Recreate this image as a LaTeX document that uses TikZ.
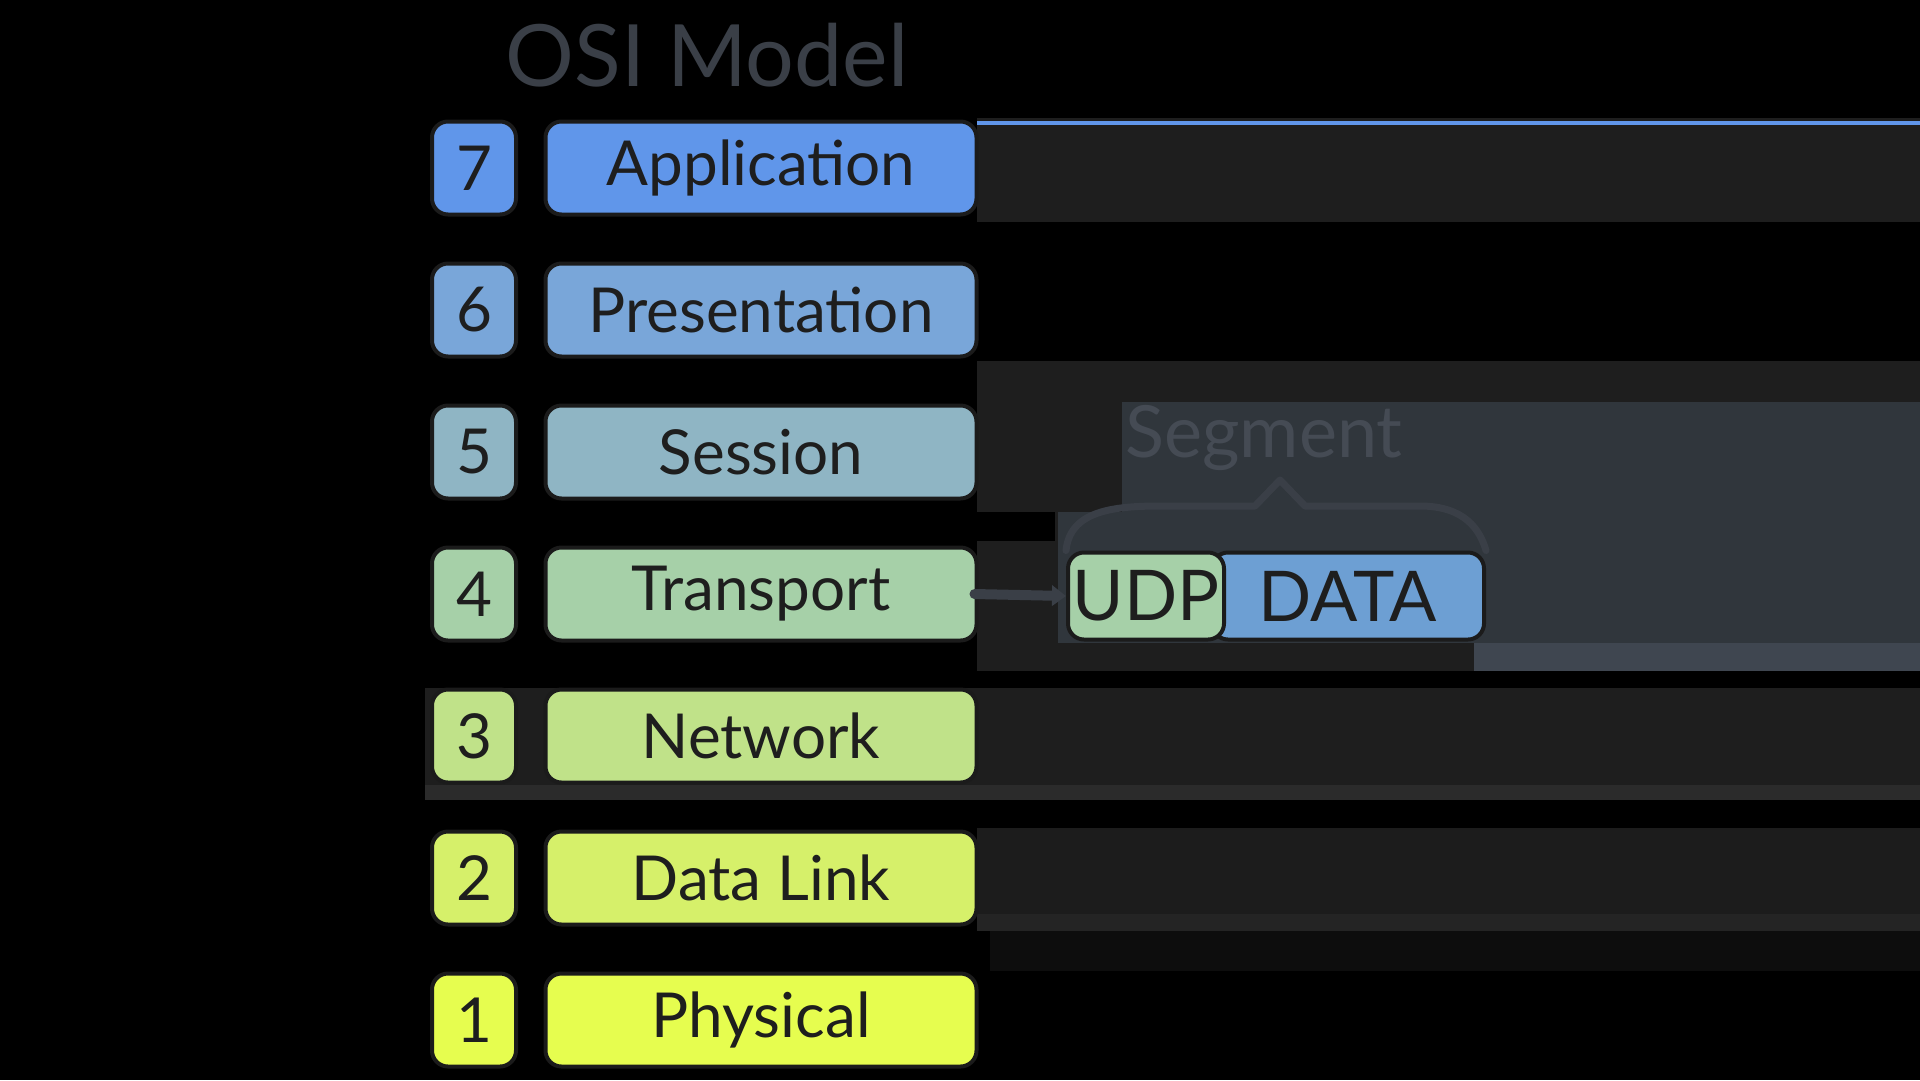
\documentclass[tikz,border=0pt]{standalone}
\usepackage{fontspec}
\setmainfont{Lato}
\usetikzlibrary{arrows.meta}

\definecolor{ink}{HTML}{1E1E1E}
\definecolor{edge}{HTML}{1B1B1B}
\definecolor{slate}{HTML}{3A3F47}
\definecolor{slatetext}{HTML}{454B54}
\definecolor{band}{HTML}{1E1E1E}
\definecolor{haze}{HTML}{30363C}
\definecolor{hazelight}{HTML}{3F4650}
\definecolor{lseven}{HTML}{6096EA}
\definecolor{lsix}{HTML}{79A6D9}
\definecolor{lfive}{HTML}{8FB5C4}
\definecolor{lfour}{HTML}{A6D0A8}
\definecolor{lthree}{HTML}{C0E289}
\definecolor{ltwo}{HTML}{D6F06A}
\definecolor{lone}{HTML}{E6FD4F}
\definecolor{datablue}{HTML}{6D9FD3}

\begin{document}
\begin{tikzpicture}[
  x=1pt, y=-1pt,
  num/.style={draw=edge, line width=4pt, rounded corners=16pt, minimum width=84pt,
    minimum height=93pt, text=ink, font=\fontsize{62}{70}\selectfont},
  layer/.style={num, minimum width=431pt},
  part/.style={draw=edge, line width=4pt, rounded corners=16pt, minimum height=87pt,
    text=ink, font=\fontsize{70}{80}\selectfont},
  link/.style={-{Triangle[length=14pt,width=20pt]}, line width=10pt, line cap=round, draw=slate}
]
% backdrop
\useasboundingbox (0,0) rectangle (1920,1080);
\fill[black] (0,0) rectangle (1920,1080);
\fill[band] (977,118) rectangle (1920,222);
\fill[lseven] (977,121) rectangle (1920,125);
\fill[band] (977,361) rectangle (1920,643);
\fill[haze] (1122,402) rectangle (1920,512);
\fill[haze] (1058,512) rectangle (1920,643);
\fill[black] (977,512) rectangle (1055,541);
\fill[hazelight] (1474,643) rectangle (1920,671);
\fill[band] (977,643) rectangle (1474,671);
\fill[band] (425,688) rectangle (1920,785);
\fill[black!83] (425,785) rectangle (1920,800);
\fill[black!89] (977,828) rectangle (1920,914);
\fill[black!86] (977,914) rectangle (1920,931);
\fill[black!95] (990,931) rectangle (1920,971);

\node[text=slate, font=\fontsize{86}{96}\selectfont] (title) at (707,55) {OSI Model};

\node[num, fill=lseven] (n7) at (474,168) {7};
\node[layer, fill=lseven] (l7) at (761,168) {Application};
\node[num, fill=lsix] (n6) at (474,310) {6};
\node[layer, fill=lsix] (l6) at (761,310) {Presentation};
\node[num, fill=lfive] (n5) at (474,452) {5};
\node[layer, fill=lfive] (l5) at (761,452) {Session};
\node[num, fill=lfour] (n4) at (474,594) {4};
\node[layer, fill=lfour] (l4) at (761,594) {Transport};
\node[num, fill=lthree] (n3) at (474,736) {3};
\node[layer, fill=lthree] (l3) at (761,736) {Network};
\node[num, fill=ltwo] (n2) at (474,878) {2};
\node[layer, fill=ltwo] (l2) at (761,878) {Data Link};
\node[num, fill=lone] (n1) at (474,1020) {1};
\node[layer, fill=lone] (l1) at (761,1020) {Physical};

% segment = header + payload
\node[part, fill=datablue, minimum width=272pt] (data) at (1348,596) {DATA};
\node[part, fill=lfour, minimum width=156pt] (udp) at (1146,596) {UDP};
\draw[link] ([xshift=-4pt]l4.east) -- (udp.west);

\node[text=slatetext, font=\fontsize{72}{80}\selectfont] (segment) at (1264,438) {Segment};
\draw[slate, line width=7pt, line cap=round, line join=round]
  (udp.north west) .. controls (1070,512) and (1110,506) .. (1160,506)
  -- (1255,506) -- (1280,480) -- (1305,506) -- (1420,506)
  .. controls (1465,506) and (1480,530) .. (data.north east);
\end{tikzpicture}
\end{document}
